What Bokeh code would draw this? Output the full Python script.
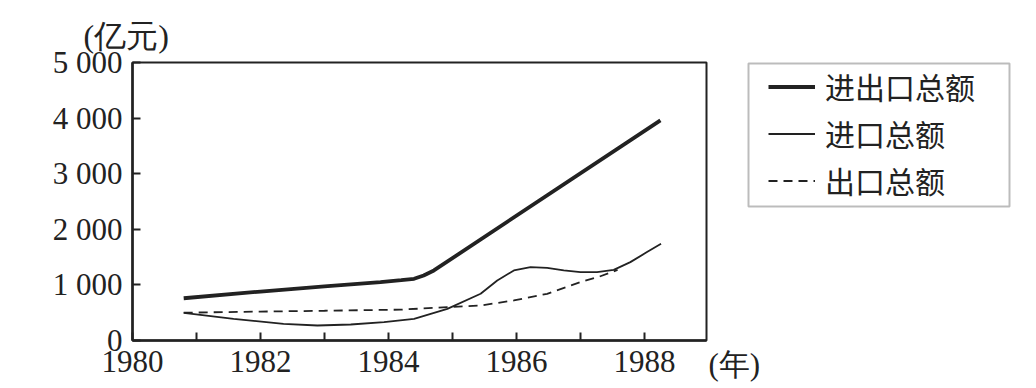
from bokeh.plotting import figure
from bokeh.models import FixedTicker, Legend, LegendItem, Label, Range1d, BoxAnnotation
from bokeh.layouts import row, column
from bokeh.embed import file_html
from bokeh.resources import INLINE

# Data
total_years = [1980.8, 1982.0, 1983.0, 1983.875, 1984.2, 1984.4, 1984.55, 1984.71, 1988.25]
total_vals = [760, 880, 975, 1050, 1085, 1110, 1170, 1260, 3960]

import_years = [1980.8, 1981.58, 1982.36, 1982.89, 1983.41, 1983.93, 1984.4, 1984.92, 1985.44,
                1985.7, 1985.96, 1986.22, 1986.48, 1986.74, 1987.0, 1987.26, 1987.52, 1987.78,
                1988.04, 1988.26]
import_vals = [498, 390, 300, 270, 288, 330, 390, 570, 840,
               1080, 1260, 1320, 1305, 1260, 1230, 1230, 1270, 1410,
               1590, 1740]

export_years = [1980.8, 1982.0, 1983.0, 1984.19, 1984.92, 1985.44, 1985.96, 1986.48, 1987.0, 1987.3, 1987.58]
export_vals = [500, 520, 535, 555, 600, 630, 720, 840, 1050, 1150, 1270]

series_names = ["进出口总额", "进口总额", "出口总额"]
y_ticks = [0, 1000, 2000, 3000, 4000, 5000]
y_tick_labels = ["0", "1 000", "2 000", "3 000", "4 000", "5 000"]
x_ticks = [1980, 1981, 1982, 1983, 1984, 1985, 1986, 1987, 1988]
x_tick_labels = ["1980", "", "1982", "", "1984", "", "1986", "", "1988"]
y_unit = "(亿元)"
x_unit = "(年)"

INK = "#222222"
styles = [dict(line_color=INK, line_width=3.8),
          dict(line_color=INK, line_width=1.8),
          dict(line_color=INK, line_width=1.8, line_dash="9 6")]
series_x = [total_years, import_years, export_years]
series_y = [total_vals, import_vals, export_vals]

# ---- main chart ----
p = figure(width=708, height=388, output_backend="svg", toolbar_location=None,
           x_range=Range1d(1980, 1988.97), y_range=Range1d(0, 5000),
           min_border_left=132, min_border_right=2, min_border_top=62, min_border_bottom=48)
p.grid.visible = False
p.background_fill_color = "white"
p.border_fill_color = "white"
p.outline_line_color = INK
p.outline_line_width = 2

p.title.text = y_unit
p.title.align = "left"
p.title.offset = -49
p.title.standoff = 17
p.title.text_font = "Liberation Serif"
p.title.text_font_size = "32px"
p.title.text_font_style = "normal"
p.title.text_color = INK

for ax in (p.xaxis[0], p.yaxis[0]):
    ax.axis_line_color = INK
    ax.axis_line_width = 2.5
    ax.major_tick_in = 8
    ax.major_tick_out = 0
    ax.major_tick_line_width = 2
    ax.major_tick_line_color = INK
    ax.minor_tick_line_color = None
    ax.major_label_text_font = "Liberation Serif"
    ax.major_label_text_font_size = "31px"
    ax.major_label_text_color = INK

p.yaxis.ticker = FixedTicker(ticks=y_ticks)
p.yaxis.major_label_overrides = {t: l for t, l in zip(y_ticks, y_tick_labels)}
p.yaxis.major_label_standoff = 10
p.xaxis.ticker = FixedTicker(ticks=x_ticks)
p.xaxis.major_label_overrides = {t: l for t, l in zip(x_ticks, x_tick_labels)}
p.xaxis.major_label_standoff = 10

for xs, ys, s in zip(series_x, series_y, styles):
    p.line(xs, ys, **s)

# ---- legend area (its frame fills the whole panel) ----
pl = figure(width=328, height=340, output_backend="svg", toolbar_location=None,
            x_range=Range1d(0, 1), y_range=Range1d(0, 1), x_axis_type=None, y_axis_type=None,
            min_border_left=0, min_border_right=0, min_border_top=0, min_border_bottom=0)
pl.background_fill_color = "white"
pl.border_fill_color = "white"
pl.outline_line_color = None
# same series, outside this panel's range: only used to draw the legend samples
keys = [pl.line(xs, ys, **s) for xs, ys, s in zip(series_x, series_y, styles)]

pl.add_layout(BoxAnnotation(left=40, right=301, top=277, bottom=134,
                            left_units="screen", right_units="screen",
                            top_units="screen", bottom_units="screen",
                            fill_color=None, fill_alpha=0, line_color=INK, line_width=2))

legend = Legend(items=[LegendItem(label=n, renderers=[r]) for n, r in zip(series_names, keys)],
                location=(60, 138), orientation="vertical")
legend.border_line_color = None
legend.background_fill_alpha = 0
legend.padding = 0
legend.margin = 0
legend.spacing = 3
legend.glyph_width = 47
legend.glyph_height = 43
legend.label_height = 43
legend.label_standoff = 10
legend.label_text_font = "Noto Sans CJK SC"
legend.label_text_font_size = "30px"
legend.label_text_color = INK
pl.add_layout(legend, "center")

# ---- year unit ----
py = figure(width=328, height=48, output_backend="svg", toolbar_location=None,
            x_range=Range1d(0, 1), y_range=Range1d(0, 1), x_axis_type=None, y_axis_type=None,
            min_border_left=0, min_border_right=0, min_border_top=0, min_border_bottom=0)
py.outline_line_color = None
py.background_fill_color = "white"
py.border_fill_color = "white"
py.add_layout(Label(x=0, y=24, x_units="screen", y_units="screen", text=x_unit,
                    text_font="Liberation Serif", text_font_size="31px", text_color=INK,
                    text_baseline="middle", text_align="left"))

layout = row(p, column(pl, py, spacing=0), spacing=0)
open("out.html", "w").write(file_html(layout, INLINE))
